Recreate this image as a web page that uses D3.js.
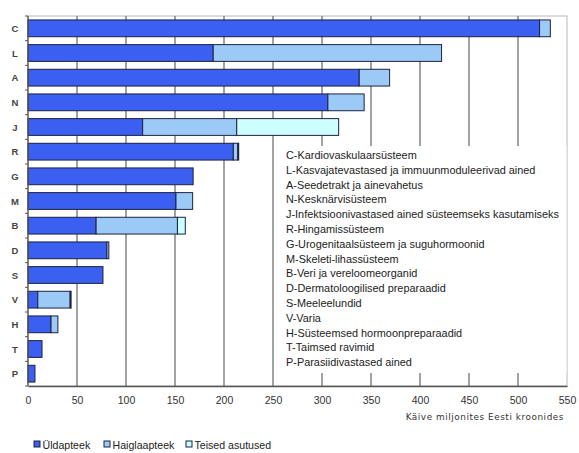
<!DOCTYPE html>
<html>
<head>
<meta charset="utf-8">
<script src="https://cdn.jsdelivr.net/npm/d3@7"></script>
<style>
  html, body { margin: 0; padding: 0; background: #fff; }
  svg { display: block; font-family: "Liberation Sans", Arial, sans-serif; }
</style>
</head>
<body>
<svg id="chart" width="579" height="453"></svg>
<script>
// ATC groups, top to bottom
const categories = ["C", "L", "A", "N", "J", "R", "G", "M", "B", "D", "S", "V", "H", "T", "P"];
const groupNames = [
  "C-Kardiovaskulaarsüsteem",
  "L-Kasvajatevastased ja immuunmoduleerivad ained",
  "A-Seedetrakt ja ainevahetus",
  "N-Kesknärvisüsteem",
  "J-Infektsioonivastased ained süsteemseks kasutamiseks",
  "R-Hingamissüsteem",
  "G-Urogenitaalsüsteem ja suguhormoonid",
  "M-Skeleti-lihassüsteem",
  "B-Veri ja vereloomeorganid",
  "D-Dermatoloogilised preparaadid",
  "S-Meeleelundid",
  "V-Varia",
  "H-Süsteemsed hormoonpreparaadid",
  "T-Taimsed ravimid",
  "P-Parasiidivastased ained"
];
// Turnover, million EEK
const yldapteek    = [522, 189, 338, 306, 117, 209.5, 168.5, 151, 69.5, 80.5, 76.5, 10, 23.5, 14.3, 7.1];
const haiglaapteek = [11, 233, 31, 37, 96, 4.5, 0, 17, 83, 2, 0, 33, 7, 0, 0];
const teised       = [0, 0, 0, 0, 104, 1, 0, 0, 8, 0, 0, 1, 0, 0, 0];
const seriesNames  = ["Üldapteek", "Haiglaapteek", "Teised asutused"];
const seriesColors = ["#3b5ff0", "#9ccaf6", "#ccffff"];
const xTicks = [0, 50, 100, 150, 200, 250, 300, 350, 400, 450, 500, 550];
const axisTitle = "Käive miljonites Eesti kroonides";

const svg = d3.select("#chart");
const plotLeft = 28, plotRight = 567, plotTop = 16, plotBottom = 386;

const x = d3.scaleLinear().domain([0, 550]).range([plotLeft, plotRight]);
const y = d3.scaleBand().domain(categories).range([plotTop, plotBottom]).paddingInner(0.32).paddingOuter(0.16);
const band = d3.scaleBand().domain(categories).range([plotTop, plotBottom]);

const rows = categories.map((c, i) => ({ cat: c, "Üldapteek": yldapteek[i], "Haiglaapteek": haiglaapteek[i], "Teised asutused": teised[i] }));
const stacked = d3.stack().keys(seriesNames)(rows);

// plot frame
svg.append("rect").attr("x", plotLeft).attr("y", plotTop).attr("width", plotRight - plotLeft).attr("height", plotBottom - plotTop)
  .attr("fill", "#fff").attr("stroke", "#b8b8b8").attr("stroke-width", 1);

// vertical gridlines
svg.append("g").selectAll("line").data(xTicks.slice(1, -1)).join("line")
  .attr("x1", d => x(d)).attr("x2", d => x(d)).attr("y1", plotTop).attr("y2", plotBottom)
  .attr("stroke", "#707070").attr("stroke-width", 1.3);

// legend panel with group names
const legTop = 146, legBottom = 373;
svg.append("rect").attr("x", x(250) + 1).attr("y", legTop).attr("width", plotRight - x(250) - 1.5).attr("height", legBottom - legTop)
  .attr("fill", "#fff");
svg.append("g").selectAll("text").data(groupNames).join("text")
  .attr("x", 286).attr("y", (d, i) => 159 + i * 14.8)
  .attr("font-size", 10.9).attr("fill", "#222").text(d => d);

// stacked bars
svg.append("g").selectAll("g").data(stacked).join("g")
  .attr("fill", (d, i) => seriesColors[i])
  .selectAll("rect").data(d => d.filter(s => s[1] - s[0] > 0)).join("rect")
  .attr("x", d => x(d[0])).attr("width", d => x(d[1]) - x(d[0]))
  .attr("y", d => y(d.data.cat)).attr("height", y.bandwidth())
  .attr("stroke", "#1c2240").attr("stroke-width", 1);

// y axis
const yAxis = svg.append("g").attr("transform", `translate(${plotLeft},0)`);
yAxis.append("line").attr("x1", 0).attr("x2", 0).attr("y1", plotTop).attr("y2", plotBottom).attr("stroke", "#555").attr("stroke-width", 1.3);
yAxis.selectAll("line.tick").data(d3.range(categories.length + 1)).join("line").attr("class", "tick")
  .attr("x1", -3).attr("x2", 0).attr("y1", i => plotTop + i * band.step()).attr("y2", i => plotTop + i * band.step())
  .attr("stroke", "#555");
yAxis.selectAll("text").data(categories).join("text")
  .attr("x", -13).attr("y", d => band(d) + band.bandwidth() / 2 + 3.5)
  .attr("text-anchor", "middle").attr("font-size", 9.5).attr("font-weight", "bold").attr("fill", "#444")
  .text(d => d);

// x axis
const xAxis = svg.append("g").attr("transform", `translate(0,${plotBottom})`)
  .call(d3.axisBottom(x).tickValues(xTicks).tickSize(0).tickPadding(11));
xAxis.select(".domain").attr("stroke", "#555").attr("stroke-width", 1.3);
xAxis.selectAll("text").attr("font-size", 10.5).attr("fill", "#333").attr("font-family", "'Liberation Sans', Arial, sans-serif");

svg.append("text").attr("x", 564).attr("y", 420).attr("text-anchor", "end")
  .attr("font-family", "'DejaVu Sans', Verdana, sans-serif").attr("font-size", 8.9).attr("letter-spacing", 0.55)
  .attr("fill", "#333").text(axisTitle);

// series legend
const legendX = [34, 104, 186];
const lg = svg.append("g").selectAll("g").data(seriesNames).join("g")
  .attr("transform", (d, i) => `translate(${legendX[i]},441)`);
lg.append("rect").attr("width", 6).attr("height", 6).attr("y", 0)
  .attr("fill", (d, i) => seriesColors[i]).attr("stroke", "#1c2240").attr("stroke-width", 1);
lg.append("text").attr("x", 8.5).attr("y", 7.5).attr("font-size", 10.6).attr("fill", "#222").text(d => d);
</script>
</body>
</html>
